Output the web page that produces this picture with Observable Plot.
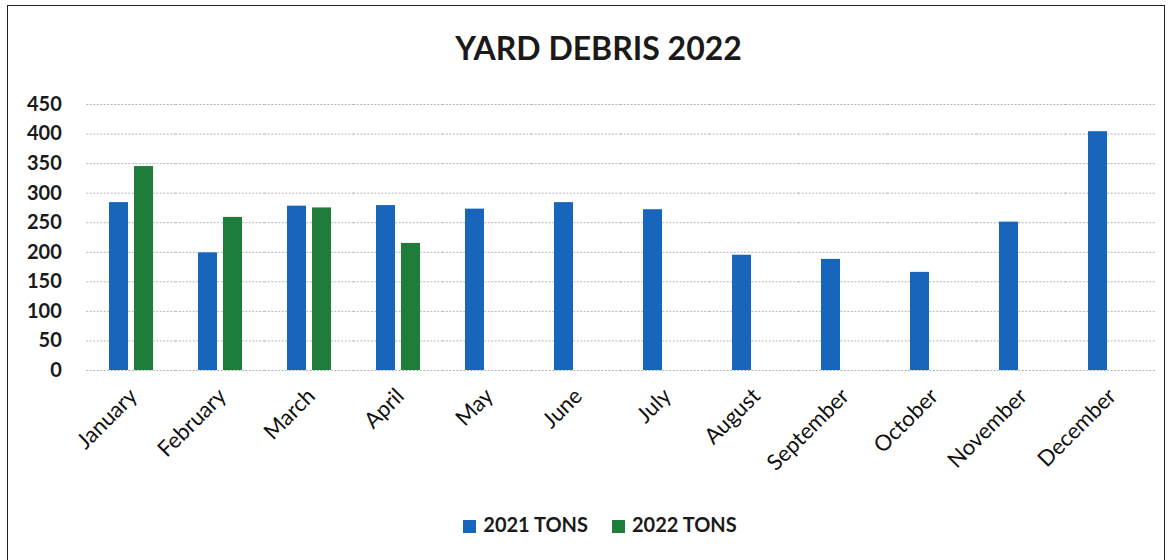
<!DOCTYPE html>
<html>
<head>
<meta charset="utf-8">
<script src="https://cdn.jsdelivr.net/npm/d3@7"></script>
<script src="https://cdn.jsdelivr.net/npm/@observablehq/plot@0.6"></script>
<style>
  html, body { margin: 0; padding: 0; background: #fff; width: 1173px; height: 560px; overflow: hidden; font-family: Lato, "Open Sans", sans-serif; }
  #frame { position: absolute; left: 7px; top: 5px; width: 1158px; height: 600px; border: 1.5px solid #222; box-sizing: border-box; }
  #title { position: absolute; left: 0; top: 28px; width: 1197px; text-align: center; font-weight: 700; font-size: 32px; color: #1a1a1a; }
  #chart { position: absolute; left: 0; top: 80px; }
  #legend { position: absolute; left: 0; top: 512px; width: 1200px; text-align: center; font-weight: 700; font-size: 20px; color: #1a1a1a; }
  #legend span.item { display: inline-block; margin: 0 12px; }
  #legend span.sw { display: inline-block; width: 13px; height: 13px; margin-right: 7px; vertical-align: -1px; }
</style>
</head>
<body>
<div id="frame"></div>
<div id="title">YARD DEBRIS 2022</div>
<div id="chart"></div>
<div id="legend"></div>
<script>
const months = ["January","February","March","April","May","June","July","August","September","October","November","December"];
const tons2021 = [284, 199, 278, 279, 273, 284, 272, 195, 188, 166, 251, 404];
const tons2022 = [345, 259, 275, 215, null, null, null, null, null, null, null, null];
const seriesNames = ["2021 TONS", "2022 TONS"];
const seriesColors = ["#1866bb", "#1f7d3c"];
const yTicks = [0, 50, 100, 150, 200, 250, 300, 350, 400, 450];

const rows = [];
months.forEach((m, i) => {
  if (tons2021[i] != null) rows.push({month: m, series: seriesNames[0], value: tons2021[i]});
  if (tons2022[i] != null) rows.push({month: m, series: seriesNames[1], value: tons2022[i]});
});

const W = 1173, ML = 83, MR = 16, FXPAD = 0.486;
const halfGap = ((W - ML - MR) / months.length) * FXPAD / 2;

const plot = Plot.plot({
  width: W,
  height: 400,
  marginLeft: ML,
  marginRight: MR,
  marginTop: 24,
  marginBottom: 110,
  style: {fontFamily: "Lato, 'Open Sans', sans-serif", background: "transparent"},
  fx: {domain: months, paddingInner: FXPAD, paddingOuter: FXPAD / 2, label: null},
  x: {domain: seriesNames, paddingInner: 0.23, paddingOuter: 0, axis: null},
  y: {domain: [0, 450], label: null},
  color: {domain: seriesNames, range: seriesColors},
  marks: [
    Plot.ruleY(yTicks, {stroke: "#b5b5b5", strokeWidth: 1, strokeDasharray: "2,1.5", insetLeft: -halfGap, insetRight: -halfGap}),
    Plot.axisY({ticks: yTicks, tickSize: 0, tickPadding: 25 + halfGap, fontSize: 20, fontWeight: 700, fill: "#1a1a1a", label: null}),
    Plot.axisFx({anchor: "bottom", tickSize: 0, tickRotate: -45, tickPadding: 22, fontSize: 22, fill: "#111", label: null, dx: 2}),
    Plot.barY(rows, {fx: "month", x: "series", y: "value", fill: "series"})
  ]
});
document.getElementById("chart").appendChild(plot);

const legend = document.getElementById("legend");
seriesNames.forEach((s, i) => {
  const item = document.createElement("span");
  item.className = "item";
  const sw = document.createElement("span");
  sw.className = "sw";
  sw.style.background = seriesColors[i];
  item.appendChild(sw);
  item.appendChild(document.createTextNode(s));
  legend.appendChild(item);
});
</script>
</body>
</html>
